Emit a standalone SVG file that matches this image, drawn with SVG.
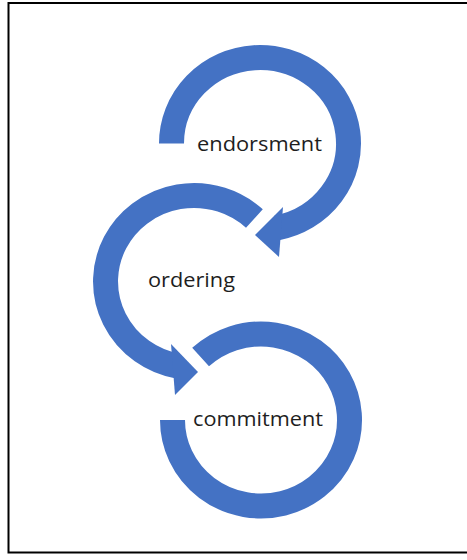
<svg xmlns="http://www.w3.org/2000/svg" width="467" height="560" viewBox="0 0 467 560">
  <style>
    .arc { fill: none; stroke: #4472C4; stroke-width: 25; stroke-linecap: butt; }
    .head { fill: #4472C4; stroke: none; }
    .lbl { font-family: "Open Sans", "DejaVu Sans", sans-serif; font-size: 20px; fill: #1e1e1e; text-anchor: middle; }
  </style>
  <rect x="0" y="0" width="467" height="560" fill="#ffffff"/>
  <rect x="8.5" y="3" width="470" height="549.5" fill="none" stroke="#000000" stroke-width="2"/>
  <g id="connectors">
    <path class="arc" d="M 171.5 143.5 A 88.5 86 0 1 1 276.9 227.9"/>
    <polygon class="head" points="283,207 255,235 279,257"/>
    <path class="arc" d="M 254.4 218.6 A 88.5 86 0 1 0 177.1 365.9"/>
    <polygon class="head" points="171,344 198,372 175,395"/>
  </g>
  <g id="endorsment">
    <text class="lbl" x="259.5" y="151" textLength="125" lengthAdjust="spacingAndGlyphs">endorsment</text>
  </g>
  <g id="ordering">
    <text class="lbl" x="191.5" y="287" textLength="87" lengthAdjust="spacingAndGlyphs">ordering</text>
  </g>
  <g id="commitment">
    <path class="arc" d="M 172.5 420 A 88.5 86 0 1 0 200.6 357.1"/>
    <text class="lbl" x="258" y="426" textLength="130" lengthAdjust="spacingAndGlyphs">commitment</text>
  </g>
</svg>
